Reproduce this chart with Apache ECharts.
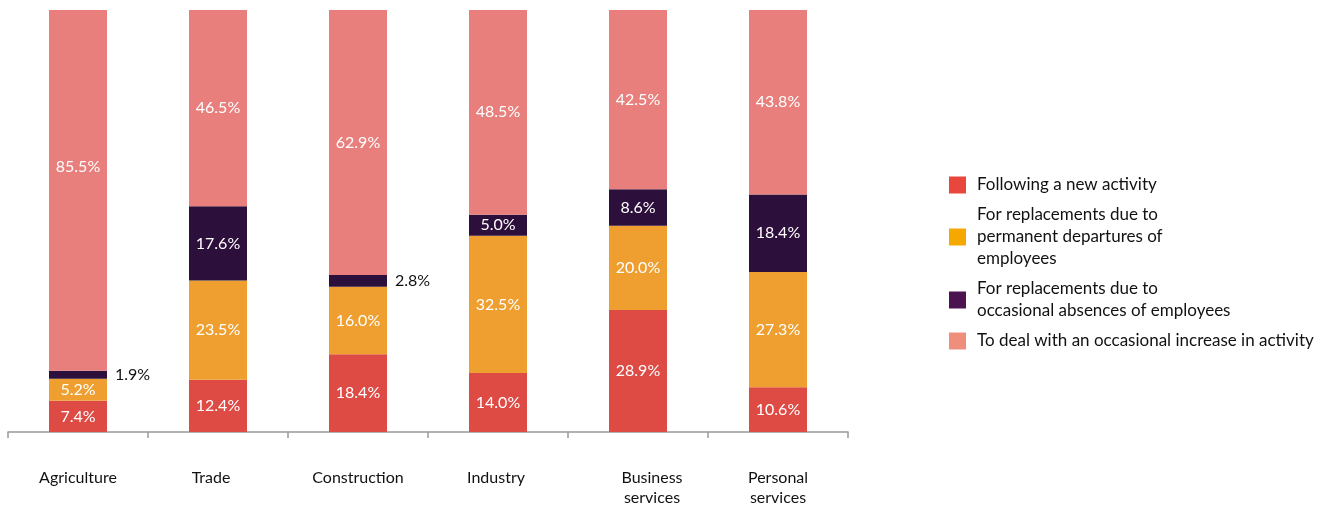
<!DOCTYPE html>
<html><head><meta charset="utf-8">
<script src="https://cdn.jsdelivr.net/npm/echarts@6/dist/echarts.min.js"></script>
<style>html,body{margin:0;padding:0;background:#fff}#c{width:1332px;height:505px}</style>
</head><body><div id="c"></div>
<script>
const categories = ['Agriculture', 'Trade', 'Construction', 'Industry', 'Business\nservices', 'Personal\nservices'];
const seriesNames = ['Following a new activity', 'For replacements due to\npermanent departures of\nemployees', 'For replacements due to\noccasional absences of employees', 'To deal with an occasional increase in activity'];
const newActivity = [7.4, 12.4, 18.4, 14.0, 28.9, 10.6];
const permanentDepartures = [5.2, 23.5, 16.0, 32.5, 20.0, 27.3];
const occasionalAbsences = [1.9, 17.6, 2.8, 5.0, 8.6, 18.4];
const occasionalIncrease = [85.5, 46.5, 62.9, 48.5, 42.5, 43.8];

const barColors = ['#DE4A44', '#EE9F30', '#2D0F3B', '#E87F7C'];
const legendColors = ['#E8473E', '#F5A800', '#4B1350', '#F08E7C'];
const FONT = 'Lato';
// small horizontal nudges of category labels, as in the original layout
const labelShift = [0, -7, 0, -2, 14, 0];

function mkData(vals, seriesIdx) {
  return vals.map((v, j) => {
    if (seriesIdx === 2 && v < 3) {
      return {value: v, label: {position: 'right', color: '#111', distance: 8}};
    }
    if (seriesIdx === 3 && j === 0) {
      return {value: v, label: {offset: [0, -24]}};
    }
    return v;
  });
}
const allVals = [newActivity, permanentDepartures, occasionalAbsences, occasionalIncrease];
const chart = echarts.init(document.getElementById('c'));
chart.setOption({
  animation: false,
  grid: {left: 8, top: 10, width: 840, height: 422, outerBoundsMode: 'none', containLabel: false},
  legend: {
    orient: 'vertical', left: 944, top: 169, itemGap: 8,
    itemWidth: 17, itemHeight: 17, icon: 'rect',
    textStyle: {fontFamily: FONT, fontSize: 17, color: '#111', lineHeight: 22, padding: [0, 0, 0, 6]},
    data: seriesNames.map((n, i) => ({name: n, itemStyle: {color: legendColors[i]}}))
  },
  xAxis: {
    type: 'category',
    data: categories.map((c, i) => ({value: c, textStyle: {padding: labelShift[i] >= 0 ? [0, 0, 0, 2 * labelShift[i]] : [0, -2 * labelShift[i], 0, 0]}})),
    axisLine: {lineStyle: {color: '#999', width: 1.5}},
    axisTick: {show: true, length: 6, lineStyle: {color: '#999', width: 1.5}},
    axisLabel: {margin: 36, color: '#111', fontFamily: FONT, fontSize: 16, lineHeight: 20}
  },
  yAxis: {type: 'value', min: 0, max: 100, show: false, splitLine: {show: false}},
  series: allVals.map((vals, i) => ({
    type: 'bar', name: seriesNames[i], stack: 'all', barWidth: 58,
    itemStyle: {color: barColors[i]},
    label: {show: true, position: 'inside', color: '#fff', fontFamily: FONT, fontSize: 16,
      formatter: p => p.value.toFixed(1) + '%'},
    data: mkData(vals, i)
  }))
});
</script></body></html>
